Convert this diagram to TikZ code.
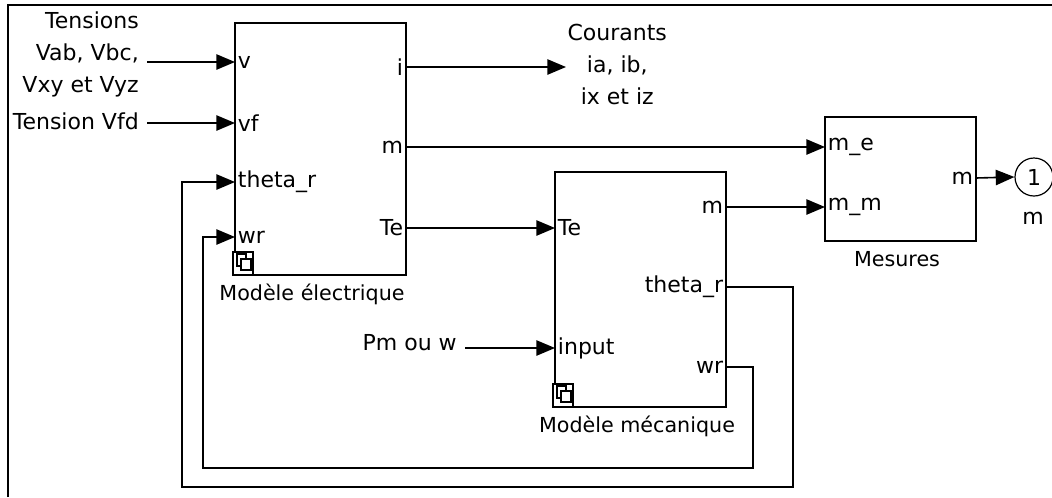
\documentclass[tikz,border=0pt]{standalone}
\usepackage{fontspec}
\setmainfont{DejaVu Sans}
\usetikzlibrary{arrows.meta}
\tikzset{
  sig/.style={line width=1.2pt,-{Triangle[length=14pt,width=11.5pt]}},
  blk/.style={draw,line width=1.2pt,inner sep=0pt},
  lbl/.style={font=\fontsize{16.5}{24}\selectfont,inner sep=1pt},
  plbl/.style={lbl,inner xsep=2pt},
  nlbl/.style={lbl,font=\fontsize{15.5}{20}\selectfont},
}
\newcommand{\block}[5]{\node[blk,minimum width={#4*0.75pt},minimum height={#5*0.75pt}] (#1) at (#2,#3) {};}
\newcommand{\inport}[4]{\coordinate (#1) at (#2,#3); \node[plbl,anchor=west] (#1-l) at (#1) {#4};}
\newcommand{\outport}[4]{\coordinate (#1) at (#2,#3); \node[plbl,anchor=east] (#1-l) at (#1) {#4};}
\newcommand{\subsysicon}[2]{ \draw[fill=white,line width=0.9pt] (#1,#2) rectangle ++(20,23);
  \draw[line width=0.9pt] (#1+4,#2+2) rectangle ++(9,12);
  \draw[fill=white,line width=0.9pt] (#1+8,#2+7) rectangle ++(10,11);}

\begin{document}
\begin{tikzpicture}[x=0.75pt,y=-0.75pt]
\useasboundingbox (0,0) rectangle (1052,497);
% frame
\draw[line width=2.2pt] (8,497) -- (8,5) -- (1052,5);
% blocks
\block{elec}{320.5}{149}{171}{252}
\block{meca}{640.5}{289.5}{171}{235}
\block{mes}{900.5}{179}{151}{124}
\subsysicon{233}{252}
\subsysicon{553}{384}
% block names
\node[nlbl] (elec-name) at (312,294) {Modèle électrique};
\node[nlbl] (meca-name) at (637,426) {Modèle mécanique};
\node[nlbl] (mes-name) at (897,259) {Mesures};
% ports of the electrical model
\inport{e-v}{235}{62}{v}
\inport{e-vf}{235}{123}{vf}
\inport{e-th}{235}{182}{theta\_r}
\inport{e-wr}{235}{237}{wr}
\outport{e-i}{406}{67}{i}
\outport{e-m}{406}{147}{m}
\outport{e-te}{406}{228}{Te}
% ports of the mechanical model
\inport{k-te}{555}{228}{Te}
\inport{k-in}{555}{348}{input}
\outport{k-m}{726}{207}{m}
\outport{k-th}{726}{287}{theta\_r}
\outport{k-wr}{726}{367}{wr}
% ports of the measures
\inport{s-me}{825}{147}{m\_e}
\inport{s-mm}{825}{207}{m\_m}
\outport{s-m}{976}{178}{m}
% outport 1
\node[draw,circle,line width=0.9pt,inner sep=0pt,lbl,minimum size=28.5pt] (out1) at (1034,177) {1};
\node[lbl] (out1-name) at (1033,218) {m};
% sources and sinks
\node[lbl,align=right,anchor=east,inner xsep=6pt] (tens) at (147,54) {Tensions\\Vab, Vbc,\\Vxy et Vyz};
\node[lbl,anchor=east,inner xsep=6pt] (vfd) at (147,121) {Tension Vfd};
\node[lbl,anchor=east,inner xsep=6pt] (pm) at (465,343) {Pm ou w};
\node[lbl,align=center,anchor=west] (cour) at (566,64) {Courants\\ia, ib,\\ix et iz};
% signals
\draw[sig] (e-v -| tens.east) -- (e-v);
\draw[sig] (e-vf -| vfd.east) -- (e-vf);
\draw[sig] (k-in -| pm.east) -- (k-in);
\draw[sig] (e-i) -- (e-i -| cour.west);
\draw[sig] (e-m) -- (s-me);
\draw[sig] (e-te) -- (k-te);
\draw[sig] (k-m) -- (s-mm);
\draw[sig] (s-m) -- (out1.west);
% feedback loops
\coordinate (th-r) at (793,487);
\coordinate (th-l) at (182,487);
\coordinate (wr-r) at (753,468);
\coordinate (wr-l) at (203,468);
\draw[sig] (k-th) -| (th-r) -- (th-l) |- (e-th);
\draw[sig] (k-wr) -| (wr-r) -- (wr-l) |- (e-wr);
\end{tikzpicture}
\end{document}
